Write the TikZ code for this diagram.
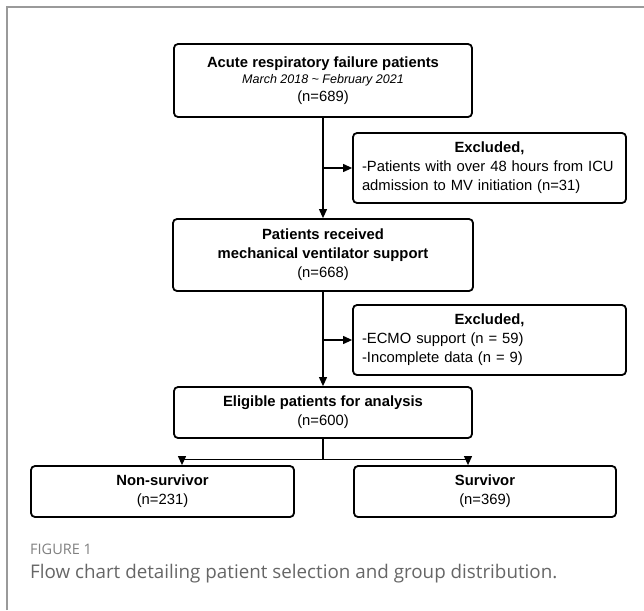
\documentclass[tikz,border=0pt]{standalone}
\usepackage{fontspec}
\setmainfont{Liberation Sans}
\newfontfamily\capfont{Open Sans}
\usepackage{xcolor}
\usepackage{tikz}
\usetikzlibrary{positioning, arrows.meta}
\definecolor{framegray}{HTML}{9A9A9A}
\definecolor{labelgray}{HTML}{808080}
\definecolor{captiongray}{HTML}{666666}

\tikzset{
  flowbox/.style={draw, line width=1.8pt, rounded corners=4pt, align=center,
    inner sep=0pt, font=\fontsize{14.8}{19}\selectfont},
  exclbox/.style={flowbox, align=left, inner xsep=9pt, text width=255pt,
    minimum height=70pt},
  flowarrow/.style={line width=1.1pt, -{Triangle[length=9pt, width=8pt]}},
  flowline/.style={line width=1.1pt}
}

\begin{document}
\begin{tikzpicture}[x=1pt, y=-1pt]
    \useasboundingbox (0,0) rectangle (644,610);
    \draw[framegray, line width=2pt] (7,610) -- (7,7) -- (644,7);

    \node[flowbox, minimum width=298pt, minimum height=73pt] (arf) at (323,80.5){%
      \textbf{Acute respiratory failure patients}\\[-3pt]
      {\fontsize{12.5}{15}\selectfont\itshape March 2018 \textasciitilde{} February 2021}\\[-1pt]
      (n=689)};
    \node[exclbox] (excl1) at (489.5,168){%
      \makebox[\linewidth][c]{\textbf{Excluded,}}\\
      -Patients with over 48 hours from ICU\\
      admission to MV initiation (n=31)};
    \node[flowbox, minimum width=300pt, minimum height=72pt] (mv) at (323,255){%
      \textbf{Patients received}\\
      \textbf{mechanical ventilator support}\\
      (n=668)};
    \node[exclbox] (excl2) at (489.5,340){%
      \makebox[\linewidth][c]{\textbf{Excluded,}}\\
      -ECMO support (n = 59)\\
      -Incomplete data (n = 9)};
    \node[flowbox, minimum width=298pt, minimum height=51pt] (elig) at (323,412.5){%
      \textbf{Eligible patients for analysis}\\
      (n=600)};
    \node[flowbox, minimum width=263pt, minimum height=51pt] (nonsurv) at (162.5,491.5){%
      \textbf{Non-survivor}\\
      (n=231)};
    \node[flowbox, minimum width=262pt, minimum height=51pt] (surv) at (485,491.5){%
      \textbf{Survivor}\\
      (n=369)};

    % main flow
    \draw[flowarrow] (arf) -- (mv);
    \draw[flowarrow] (mv) -- (elig);
    \draw[flowarrow] (arf.south |- excl1.west) -- (excl1.west);
    \draw[flowarrow] (mv.south |- excl2.west) -- (excl2.west);

    % split into groups
    \coordinate (split) at ([yshift=-21pt]elig.south);
    \draw[flowline] (elig.south) -- (split);
    \draw[flowarrow] (split) -| ([xshift=19.5pt]nonsurv.north);
    \draw[flowarrow] (split) -| ([xshift=-17pt]surv.north);

    \node[anchor=west, inner sep=0pt, text=labelgray, font=\capfont\fontsize{14.5}{16}\selectfont]
      (figlabel) at (30,549) {FIGURE 1};
    \node[anchor=west, inner sep=0pt, text=captiongray, font=\capfont\fontsize{18.8}{22}\selectfont]
      (caption) at (30,574) {Flow chart detailing patient selection and group distribution.};
  \end{tikzpicture}
\end{document}
